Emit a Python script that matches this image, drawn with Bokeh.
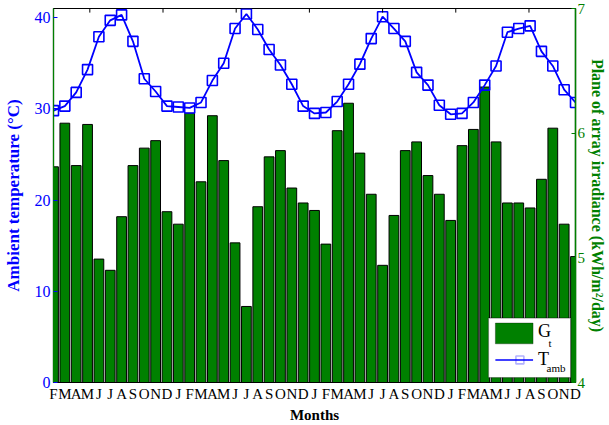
from bokeh.plotting import figure
from bokeh.models import (Range1d, LinearAxis, FixedTicker, BoxAnnotation, Label)
from bokeh.embed import file_html
from bokeh.resources import INLINE

# ---- data ----
month_labels = (["F", "M", "A", "M", "J", "J", "A", "S", "O", "N", "D"] +
                ["J", "F", "M", "A", "M", "J", "J", "A", "S", "O", "N", "D"] * 3)
idx = list(range(len(month_labels)))

t_amb = [29.8, 30.3, 31.8, 34.3, 37.9, 39.7, 40.3, 37.4, 33.3, 31.9, 30.3,
         30.2, 30.1, 30.7, 33.1, 35.0, 38.8, 40.4, 38.7, 36.5, 34.8, 32.7, 30.3,
         29.5, 29.6, 30.8, 32.7, 34.9, 37.7, 40.1, 38.8, 37.4, 34.0, 32.6, 30.4,
         29.4, 29.5, 30.7, 32.6, 34.7, 38.4, 38.8, 39.1, 36.3, 34.7, 32.1, 30.7]

g_t = [5.73, 6.08, 5.74, 6.07, 4.99, 4.90, 5.33, 5.74, 5.88, 5.94, 5.37,
       5.27, 6.16, 5.61, 6.14, 5.78, 5.12, 4.61, 5.41, 5.81, 5.86, 5.56, 5.44,
       5.38, 5.11, 6.02, 6.24, 5.84, 5.51, 4.94, 5.34, 5.86, 5.93, 5.66, 5.51,
       5.30, 5.90, 6.03, 6.37, 5.93, 5.44, 5.44, 5.40, 5.63, 6.04, 5.27, 5.01]

left_ticks = [0, 10, 20, 30, 40]
right_ticks = [4, 5, 6, 7]
top_ticks = [3.2, 9.65, 16.1, 22.55, 29.0, 35.45, 41.9]

FONT = "Liberation Serif"
BLUE = "#0000FF"
GREEN = "#008000"
Y_MAX = 41

p = figure(width=609, height=425, output_backend="svg", toolbar_location=None,
           x_range=Range1d(0, len(idx) - 1), y_range=Range1d(0, Y_MAX),
           min_border_left=52, min_border_right=31, min_border_top=8,
           min_border_bottom=43)
p.background_fill_color = "white"
p.border_fill_color = "white"
p.outline_line_color = "black"
p.outline_line_width = 1.2
p.grid.visible = False

p.extra_y_ranges = {"irr": Range1d(4, 7)}

# bars (right axis)
p.vbar(x=idx, top=g_t, bottom=4, width=0.86, y_range_name="irr",
       fill_color=GREEN, line_color="black", line_width=1)

# temperature line (left axis)
p.line(idx, t_amb, line_color=BLUE, line_width=1.8)
p.scatter(idx, t_amb, marker="square", size=10, fill_color=None,
          line_color=BLUE, line_width=1.6)

# small inward ticks along the top edge
p.segment(x0=top_ticks, x1=top_ticks, y0=[Y_MAX] * len(top_ticks),
          y1=[Y_MAX - 0.45] * len(top_ticks), line_color="black", line_width=1)

# bottom axis
xa = p.xaxis[0]
xa.ticker = FixedTicker(ticks=idx)
xa.major_label_overrides = {i: lab for i, lab in zip(idx, month_labels)}
xa.major_label_text_font = FONT
xa.major_label_text_font_size = "15px"
xa.major_label_text_color = "black"
xa.major_label_standoff = 3
xa.major_tick_in = 0
xa.major_tick_out = 0
xa.minor_tick_line_color = None
xa.axis_line_color = "black"
xa.axis_label = "Months"
xa.axis_label_text_font = FONT
xa.axis_label_text_font_style = "bold"
xa.axis_label_text_font_size = "15px"
xa.axis_label_text_color = "black"
xa.axis_label_standoff = 2

# left axis
ya = p.yaxis[0]
ya.ticker = FixedTicker(ticks=left_ticks)
ya.major_label_text_font = FONT
ya.major_label_text_font_size = "16px"
ya.major_label_text_color = BLUE
ya.major_tick_line_color = BLUE
ya.major_tick_in = 4
ya.major_tick_out = 0
ya.minor_tick_line_color = None
ya.axis_line_color = GREEN
ya.axis_line_width = 1.2
ya.major_label_standoff = 3
ya.axis_label = "Ambient temperature (°C)"
ya.axis_label_text_font = FONT
ya.axis_label_text_font_style = "bold"
ya.axis_label_text_font_size = "17px"
ya.axis_label_text_color = BLUE
ya.axis_label_standoff = 9

# right axis
ra = LinearAxis(y_range_name="irr", ticker=FixedTicker(ticks=right_ticks))
ra.major_label_text_font = FONT
ra.major_label_text_font_size = "15px"
ra.major_label_text_color = GREEN
ra.major_tick_line_color = GREEN
ra.major_tick_in = 4
ra.major_tick_out = 0
ra.minor_tick_line_color = None
ra.axis_line_color = GREEN
ra.axis_line_width = 1.5
ra.major_label_standoff = 2
ra.axis_label = "Plane of array irradiance (kWh/m²/day)"
ra.axis_label_text_font = FONT
ra.axis_label_text_font_style = "bold"
ra.axis_label_text_font_size = "16px"
ra.axis_label_text_color = GREEN
ra.axis_label_standoff = 1
p.add_layout(ra, "right")

# legend (drawn manually so subscripts are possible)
p.add_layout(BoxAnnotation(left=38.33, right=45.57, bottom=0.54, top=7.07,
                           fill_color="white", fill_alpha=1.0,
                           line_color="black", line_width=1.3))
p.add_layout(BoxAnnotation(left=38.94, right=42.26, bottom=4.24, top=6.52,
                           fill_color=GREEN, fill_alpha=1.0,
                           line_color="black", line_width=1))
p.add_layout(BoxAnnotation(left=38.94, right=42.26, bottom=2.39, top=2.55,
                           fill_color=BLUE, fill_alpha=1.0, line_color=None))
p.add_layout(BoxAnnotation(left=40.75, right=41.45, bottom=2.04, top=2.90,
                           fill_color=None, fill_alpha=0,
                           line_color=BLUE, line_width=1.6))
for txt, x, y, fs in [("G", 42.7, 5.6, "18px"), ("t", 43.62, 4.35, "11px"),
                      ("T", 42.7, 2.6, "18px"), ("amb", 43.45, 1.6, "11px")]:
    p.add_layout(Label(x=x, y=y, text=txt, text_font=FONT, text_font_size=fs,
                       text_color="black", text_baseline="alphabetic"))

open("out.html", "w").write(file_html(p, INLINE))
